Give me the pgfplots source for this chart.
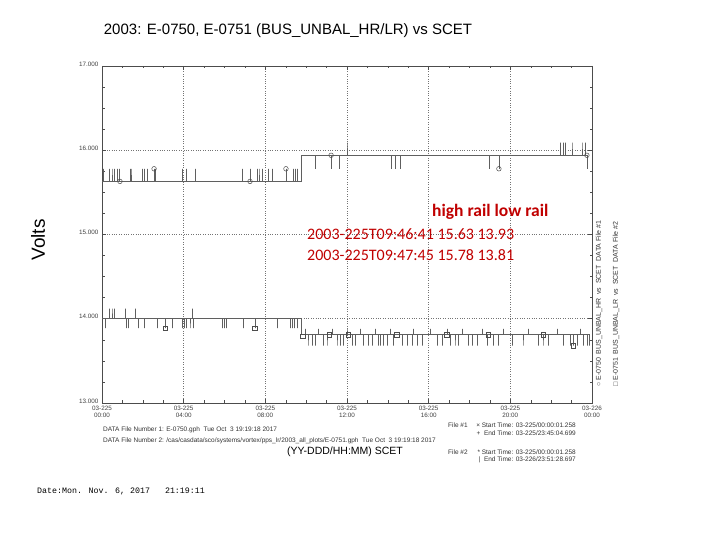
\documentclass[border=0pt]{standalone}
\usepackage{pgfplots}
\pgfplotsset{compat=1.18}
\usepackage{fontspec}
\setmainfont{Liberation Sans}
\newfontfamily\calibri{Carlito}
\newfontfamily\mono{Liberation Mono}
\definecolor{annred}{RGB}{192,0,0}
\definecolor{linegray}{RGB}{95,95,95}
\begin{document}
\begin{tikzpicture}
\path[use as bounding box] (0pt,0pt) rectangle (720pt,540pt);
\begin{axis}[
  at={(102pt,137pt)}, anchor=south west,
  scale only axis, width=490pt, height=337pt,
  xmin=0, xmax=24, ymin=13, ymax=17,
  xtick={0,4,8,12,16,20,24}, minor x tick num=3,
  ytick={13,14,15,16,17}, minor y tick num=3,
  xticklabels={{03-225\\00:00},{03-225\\04:00},{03-225\\08:00},{03-225\\12:00},{03-225\\16:00},{03-225\\20:00},{03-226\\00:00}},
  x tick label style={align=center, font=\fontsize{6.3}{7}\selectfont, text=black!75},
  y tick label style={font=\fontsize{6.3}{7}\selectfont, text=black!75, yshift=2pt},
  /pgf/number format/assume math mode=true,
  yticklabel={\pgfmathprintnumber[fixed,fixed zerofill,precision=3]{\tick}},
  grid=major, major grid style={dotted, black!55, line width=0.6pt},
  axis line style={black!70, line width=0.6pt},
  tick style={black!70, line width=0.5pt},
  major tick length=4pt, minor tick length=2.5pt,
  clip=true,
]
% high rail (E-0750, BUS_UNBAL_HR)
\addplot[linegray, line width=0.7pt, mark=none] coordinates {
(0,15.63)
(0.05,15.63)(0.05,15.78)(0.05,15.63)
(0.34,15.63)(0.34,15.78)(0.34,15.63)
(0.49,15.63)(0.49,15.78)(0.49,15.63)
(0.59,15.63)(0.59,15.78)(0.59,15.63)
(0.73,15.63)(0.73,15.78)(0.73,15.63)
(0.83,15.63)(0.83,15.78)(0.83,15.63)
(1.37,15.63)(1.37,15.78)(1.37,15.63)
(1.42,15.63)(1.42,15.78)(1.42,15.63)
(1.96,15.63)(1.96,15.78)(1.96,15.63)
(2.06,15.63)(2.06,15.78)(2.06,15.63)
(2.20,15.63)(2.20,15.78)(2.20,15.63)
(2.55,15.63)(2.55,15.78)(2.55,15.63)
(2.60,15.63)(2.60,15.78)(2.60,15.63)
(3.92,15.63)(3.92,15.78)(3.92,15.63)
(4.11,15.63)(4.11,15.78)(4.11,15.63)
(4.55,15.63)(4.55,15.78)(4.55,15.63)
(6.86,15.63)(6.86,15.78)(6.86,15.63)
(7.25,15.63)(7.25,15.78)(7.25,15.63)
(7.59,15.63)(7.59,15.78)(7.59,15.63)
(7.69,15.63)(7.69,15.78)(7.69,15.63)
(7.84,15.63)(7.84,15.78)(7.84,15.63)
(8.13,15.63)(8.13,15.78)(8.13,15.63)
(8.33,15.63)(8.33,15.78)(8.33,15.63)
(9.01,15.63)(9.01,15.78)(9.01,15.63)
(9.35,15.63)(9.35,15.78)(9.35,15.63)
(9.45,15.63)(9.45,15.78)(9.45,15.63)
(9.55,15.63)(9.55,15.78)(9.55,15.63)
(9.78,15.63)(9.78,15.94)
(10.43,15.94)(10.43,15.78)(10.43,15.94)
(11.22,15.94)(11.22,15.78)(11.22,15.94)
(11.61,15.94)(11.61,15.78)(11.61,15.94)
(12.00,15.94)(12.00,16.09)(12.00,15.94)
(14.15,15.94)(14.15,15.78)(14.15,15.94)
(14.35,15.94)(14.35,15.78)(14.35,15.94)
(14.60,15.94)(14.60,15.78)(14.60,15.94)
(18.96,15.94)(18.96,15.78)(18.96,15.94)
(19.44,15.94)(19.44,15.78)(19.44,15.94)
(22.43,15.94)(22.43,16.09)(22.43,15.94)
(22.58,15.94)(22.58,16.09)(22.58,15.94)
(22.68,15.94)(22.68,16.09)(22.68,15.94)
(23.02,15.94)(23.02,16.09)(23.02,15.94)
(23.51,15.94)(23.51,16.09)(23.51,15.94)
(23.66,15.94)(23.66,16.09)(23.66,15.94)
(23.75,15.94)(23.75,15.78)(23.75,15.94)
(23.77,15.94)
};
\addplot[only marks, mark=o, mark size=2.3pt, black!70, mark options={line width=0.5pt}] coordinates {
(0.88,15.63)(2.55,15.78)(7.25,15.63)(9.01,15.78)(11.22,15.94)(19.44,15.78)(23.75,15.94)
};
% low rail (E-0751, BUS_UNBAL_LR)
\addplot[linegray, line width=0.7pt, mark=none] coordinates {
(0,14.00)
(0.15,14.00)(0.15,13.89)(0.15,14.00)
(0.34,14.00)(0.34,14.12)(0.34,14.00)
(0.49,14.00)(0.49,14.12)(0.49,14.00)
(0.59,14.00)(0.59,14.12)(0.59,14.00)
(1.13,14.00)(1.13,14.12)(1.13,14.00)
(1.18,14.00)(1.18,13.89)(1.18,14.00)
(1.27,14.00)(1.27,13.89)(1.27,14.00)
(1.62,14.00)(1.62,14.12)(1.62,14.00)
(1.76,14.00)(1.76,13.89)(1.76,14.00)
(2.06,14.00)(2.06,13.89)(2.06,14.00)
(2.69,14.00)(2.69,13.89)(2.69,14.00)
(3.09,14.00)(3.09,13.89)(3.09,14.00)
(3.43,14.00)(3.43,13.89)(3.43,14.00)
(3.92,14.00)(3.92,13.89)(3.92,14.00)
(4.02,14.00)(4.02,13.89)(4.02,14.00)
(4.11,14.00)(4.11,13.89)(4.11,14.00)
(4.31,14.00)(4.31,13.89)(4.31,14.00)
(4.41,14.00)(4.41,14.12)(4.41,14.00)
(4.46,14.00)(4.46,13.89)(4.46,14.00)
(5.88,14.00)(5.88,13.89)(5.88,14.00)
(5.98,14.00)(5.98,13.89)(5.98,14.00)
(6.07,14.00)(6.07,13.89)(6.07,14.00)
(6.91,14.00)(6.91,13.89)(6.91,14.00)
(7.49,14.00)(7.49,13.89)(7.49,14.00)
(8.57,14.00)(8.57,13.89)(8.57,14.00)
(9.21,14.00)(9.21,13.89)(9.21,14.00)
(9.31,14.00)(9.31,13.89)(9.31,14.00)
(9.40,14.00)(9.40,13.89)(9.40,14.00)
(9.55,14.00)(9.55,13.89)(9.55,14.00)
(9.78,14.00)(9.78,13.81)
(9.94,13.81)(9.94,13.88)(9.94,13.81)
(10.09,13.81)(10.09,13.68)(10.09,13.81)
(10.29,13.81)(10.29,13.68)(10.29,13.81)
(10.43,13.81)(10.43,13.68)(10.43,13.81)
(10.58,13.81)(10.58,13.88)(10.58,13.81)
(10.82,13.81)(10.82,13.68)(10.82,13.81)
(11.02,13.81)(11.02,13.68)(11.02,13.81)
(11.26,13.81)(11.26,13.88)(11.26,13.81)
(11.51,13.81)(11.51,13.68)(11.51,13.81)
(11.66,13.81)(11.66,13.68)(11.66,13.81)
(11.80,13.81)(11.80,13.68)(11.80,13.81)
(12.00,13.81)(12.00,13.88)(12.00,13.81)
(12.24,13.81)(12.24,13.68)(12.24,13.81)
(12.39,13.81)(12.39,13.68)(12.39,13.81)
(12.64,13.81)(12.64,13.88)(12.64,13.81)
(12.78,13.81)(12.78,13.68)(12.78,13.81)
(13.03,13.81)(13.03,13.68)(13.03,13.81)
(13.22,13.81)(13.22,13.68)(13.22,13.81)
(13.37,13.81)(13.37,13.88)(13.37,13.81)
(13.52,13.81)(13.52,13.68)(13.52,13.81)
(13.61,13.81)(13.61,13.68)(13.61,13.81)
(13.76,13.81)(13.76,13.68)(13.76,13.81)
(13.96,13.81)(13.96,13.68)(13.96,13.81)
(14.10,13.81)(14.10,13.88)(14.10,13.81)
(14.25,13.81)(14.25,13.68)(14.25,13.81)
(14.69,13.81)(14.69,13.68)(14.69,13.81)
(14.94,13.81)(14.94,13.68)(14.94,13.81)
(15.18,13.81)(15.18,13.68)(15.18,13.81)
(15.23,13.81)(15.23,13.88)(15.23,13.81)
(15.43,13.81)(15.43,13.68)(15.43,13.81)
(15.67,13.81)(15.67,13.68)(15.67,13.81)
(16.07,13.81)(16.07,13.88)(16.07,13.81)
(16.41,13.81)(16.41,13.68)(16.41,13.81)
(16.65,13.81)(16.65,13.68)(16.65,13.81)
(16.90,13.81)(16.90,13.88)(16.90,13.81)
(17.04,13.81)(17.04,13.68)(17.04,13.81)
(17.29,13.81)(17.29,13.68)(17.29,13.81)
(17.44,13.81)(17.44,13.68)(17.44,13.81)
(17.63,13.81)(17.63,13.88)(17.63,13.81)
(17.93,13.81)(17.93,13.68)(17.93,13.81)
(18.12,13.81)(18.12,13.68)(18.12,13.81)
(18.37,13.81)(18.37,13.68)(18.37,13.81)
(18.61,13.81)(18.61,13.88)(18.61,13.81)
(18.86,13.81)(18.86,13.68)(18.86,13.81)
(19.15,13.81)(19.15,13.68)(19.15,13.81)
(19.40,13.81)(19.40,13.68)(19.40,13.81)
(19.64,13.81)(19.64,13.88)(19.64,13.81)
(20.08,13.81)(20.08,13.68)(20.08,13.81)
(20.62,13.81)(20.62,13.68)(20.62,13.81)
(20.86,13.81)(20.86,13.88)(20.86,13.81)
(21.35,13.81)(21.35,13.68)(21.35,13.81)
(21.60,13.81)(21.60,13.68)(21.60,13.81)
(21.84,13.81)(21.84,13.68)(21.84,13.81)
(22.29,13.81)(22.29,13.88)(22.29,13.81)
(22.58,13.81)(22.58,13.68)(22.58,13.81)
(22.92,13.81)(22.92,13.68)(22.92,13.81)
(23.07,13.81)(23.07,13.68)(23.07,13.81)
(23.27,13.81)(23.27,13.68)(23.27,13.81)
(23.41,13.81)(23.41,13.88)(23.41,13.81)
(23.56,13.81)(23.56,13.68)(23.56,13.81)
(23.75,13.81)(23.75,13.68)(23.75,13.81)
(23.85,13.81)(23.85,13.68)(23.85,13.81)
(23.86,13.81)
};
\addplot[only marks, mark=square, mark size=2.2pt, black!70, mark options={line width=0.5pt}] coordinates {
(3.09,13.89)(7.49,13.89)(9.83,13.79)(11.13,13.81)(12.06,13.81)(14.43,13.81)(16.88,13.81)(18.92,13.81)(21.60,13.81)(23.07,13.68)
};
\end{axis}
% title and labels
\node[font=\fontsize{15}{18}\selectfont] at (288pt,509pt) {2003: E-0750, E-0751 (BUS\_UNBAL\_HR/LR) vs SCET};
\node[rotate=90, font=\fontsize{19}{22}\selectfont] at (38pt,300pt) {Volts};
\node[font=\fontsize{10.5}{12}\selectfont, inner sep=0pt] at (345pt,88pt) {(YY-DDD/HH:MM) SCET};
% data file notes
\node[anchor=west, inner sep=0pt, font=\fontsize{6.5}{7.5}\selectfont, text=black!80] at (103pt,110pt) {DATA File Number 1: E-0750.gph\ \ Tue Oct\ \ 3 19:19:18 2017};
\node[anchor=west, inner sep=0pt, font=\fontsize{6.5}{7.5}\selectfont, text=black!80] at (103pt,99pt) {DATA File Number 2: /cas/casdata/sco/systems/vortex/pps\_lr/2003\_all\_plots/E-0751.gph\ \ Tue Oct\ \ 3 19:19:18 2017};
\node[anchor=west, inner sep=0pt, font=\fontsize{6.5}{7.5}\selectfont, text=black!80] at (448pt,115pt) {File \#1};
\node[anchor=east, inner sep=0pt, font=\fontsize{6.5}{7.5}\selectfont, text=black!80] at (576pt,115pt) {× Start Time: 03-225/00:00:01.258};
\node[anchor=east, inner sep=0pt, font=\fontsize{6.5}{7.5}\selectfont, text=black!80] at (576pt,107pt) {+\ \ End Time: 03-225/23:45:04.699};
\node[anchor=west, inner sep=0pt, font=\fontsize{6.5}{7.5}\selectfont, text=black!80] at (448pt,88pt) {File \#2};
\node[anchor=east, inner sep=0pt, font=\fontsize{6.5}{7.5}\selectfont, text=black!80] at (576pt,88pt) {* Start Time: 03-225/00:00:01.258};
\node[anchor=east, inner sep=0pt, font=\fontsize{6.5}{7.5}\selectfont, text=black!80] at (576pt,80pt) {|\ \ End Time: 03-226/23:51:28.697};
% rotated legend on the right
\node[rotate=90, anchor=west, inner sep=0pt, font=\fontsize{7}{8}\selectfont, text=black!80] at (599pt,153pt) {○ E-0750\ \ BUS\_UNBAL\_HR\ \ vs\ \ SCET\ \ DATA File \#1};
\node[rotate=90, anchor=west, inner sep=0pt, font=\fontsize{7}{8}\selectfont, text=black!80] at (616pt,153pt) {□ E-0751\ \ BUS\_UNBAL\_LR\ \ vs\ \ SCET\ \ DATA File \#2};
% date
\node[anchor=west, inner sep=0pt, font=\mono\fontsize{8.3}{10}\selectfont] at (37pt,49pt) {Date:Mon. Nov. 6, 2017\ \ \ 21:19:11};
% red annotation
\node[anchor=west, inner sep=0pt, font=\calibri\bfseries\fontsize{17.5}{20}\selectfont, text=annred] at (432pt,328pt) {high rail low rail};
\node[anchor=west, inner sep=0pt, font=\calibri\fontsize{16}{19}\selectfont, text=annred] at (307pt,306pt) {2003-225T09:46:41 15.63 13.93};
\node[anchor=west, inner sep=0pt, font=\calibri\fontsize{16}{19}\selectfont, text=annred] at (307pt,285pt) {2003-225T09:47:45 15.78 13.81};
\end{tikzpicture}
\end{document}
